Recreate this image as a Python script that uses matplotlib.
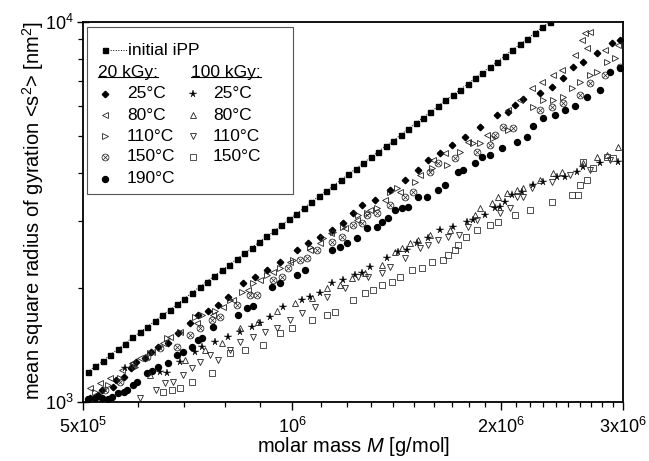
import numpy as np
import matplotlib
matplotlib.use('Agg')
import matplotlib.pyplot as plt
from matplotlib.ticker import FixedLocator, NullFormatter, FixedFormatter

plt.rcParams['font.family'] = ['Liberation Sans', 'DejaVu Sans']
plt.rcParams['mathtext.fontset'] = 'custom'
plt.rcParams['mathtext.rm'] = 'Liberation Sans'
plt.rcParams['mathtext.it'] = 'Liberation Sans:italic'
plt.rcParams['mathtext.bf'] = 'Liberation Sans:bold'
plt.rcParams['mathtext.sf'] = 'Liberation Sans'

# ---------------- data (M in 1e5 g/mol, <s^2> in nm^2) ----------------
M_init = [5.08, 5.21, 5.34, 5.47, 5.61, 5.75, 5.89, 6.04, 6.19, 6.35,
          6.50, 6.67, 6.83, 7.00, 7.18, 7.36, 7.54, 7.73, 7.93, 8.12,
          8.33, 8.54, 8.75, 8.97, 9.19, 9.42, 9.66, 9.90, 10.15, 10.40,
          10.66, 10.93, 11.20, 11.48, 11.77, 12.06, 12.37, 12.68, 12.99, 13.32,
          13.65, 13.99, 14.34, 14.70, 15.07, 15.45, 15.83, 16.23, 16.64, 17.05,
          17.48, 17.92, 18.36, 18.82, 19.29, 19.78, 20.27, 20.78, 21.30, 21.83,
          22.38, 22.94, 23.51]
R_init = [1200, 1242, 1280, 1330, 1376, 1424, 1480, 1525, 1578, 1633,
          1690, 1748, 1809, 1872, 1937, 2010, 2075, 2147, 2222, 2299,
          2379, 2462, 2548, 2636, 2728, 2810, 2921, 3023, 3128, 3237,
          3350, 3480, 3587, 3712, 3841, 3975, 4113, 4256, 4404, 4558,
          4716, 4860, 5050, 5226, 5408, 5596, 5791, 5993, 6230, 6417,
          6641, 6872, 7111, 7358, 7615, 7860, 8154, 8438, 8731, 9035,
          9350, 9675, 10012]

M_20_25 = [5.12, 5.25, 5.33, 5.52, 5.58, 5.72, 5.87, 5.97, 6.15, 6.27,
           6.42, 6.63, 6.86, 7.13, 7.32, 7.57, 7.83, 8.09, 8.50, 8.85,
           9.21, 9.61, 10.17, 10.55, 10.98, 11.43, 11.85, 12.25, 12.62, 13.17,
           13.84, 14.55, 15.19, 15.71, 16.34, 17.00, 17.75, 18.66, 19.74, 20.47,
           20.95, 21.51, 22.76, 23.68, 24.57, 25.39, 26.25, 27.49, 28.90, 29.67]
R_20_25 = [1025, 1044, 1076, 1096, 1143, 1164, 1230, 1275, 1306, 1354,
           1396, 1430, 1520, 1615, 1695, 1740, 1800, 1890, 2057, 2134,
           2226, 2336, 2513, 2621, 2719, 2837, 2960, 3145, 3300, 3402,
           3614, 3840, 4080, 4335, 4520, 4747, 4981, 5292, 5692, 5795,
           6048, 6268, 6500, 6742, 7120, 7611, 7845, 8283, 8800, 8966]

M_20_80 = [5.12, 5.29, 5.47, 5.70, 5.89, 6.04, 6.29, 6.53, 6.67, 6.90,
           7.30, 7.70, 7.96, 8.22, 8.64, 9.00, 9.40, 9.94, 10.62, 10.98,
           11.39, 11.93, 12.41, 12.96, 13.62, 14.31, 15.29, 15.97, 16.61, 17.93,
           19.10, 20.47, 21.30, 22.17, 22.91, 23.76, 24.48, 25.56, 26.16, 26.42,
           26.87, 26.60, 28.23, 29.48]
R_20_80 = [1089, 1122, 1157, 1215, 1267, 1306, 1354, 1430, 1483, 1529,
           1615, 1695, 1779, 1856, 1972, 2095, 2199, 2336, 2513, 2621,
           2785, 2870, 3015, 3200, 3402, 3569, 3958, 4335, 4520, 4832,
           5042, 5868, 6234, 6700, 6950, 7254, 7477, 8188, 8966, 9350,
           9408, 8540, 8440, 8700]

M_20_110 = [5.20, 5.43, 5.66, 5.95, 6.25, 6.61, 6.90, 7.25, 7.42, 7.75,
            8.14, 8.48, 8.79, 9.21, 9.61, 10.04, 10.62, 11.09, 11.47, 11.85,
            12.45, 12.83, 13.26, 13.84, 14.16, 15.04, 15.91, 16.72, 17.46, 18.23,
            18.66, 19.48, 20.47, 22.24, 22.99, 23.76, 24.57, 25.31, 25.99, 26.87,
            27.49, 28.42, 29.19]
R_20_110 = [1063, 1109, 1157, 1237, 1346, 1474, 1529, 1674, 1695, 1740,
            1856, 1948, 2057, 2161, 2253, 2365, 2559, 2702, 2802, 2888,
            3107, 3145, 3240, 3569, 3656, 3792, 4127, 4204, 4548, 4803,
            4803, 4950, 5197, 5973, 6234, 6234, 6346, 6700, 6950, 7254,
            7384, 7845, 8037]

M_20_150 = [5.38, 5.66, 5.91, 6.19, 6.46, 6.83, 7.13, 7.37, 7.67, 7.88,
            8.34, 8.70, 8.91, 9.40, 9.68, 9.87, 10.27, 10.52, 10.87, 11.43,
            11.81, 12.25, 12.62, 12.85, 13.26, 13.84, 14.55, 14.94, 15.81, 16.23,
            17.17, 18.47, 19.29, 19.61, 20.14, 20.81, 22.76, 23.68, 24.57, 25.99,
            26.87, 28.23, 29.67]
R_20_150 = [1076, 1129, 1252, 1314, 1388, 1396, 1501, 1566, 1644, 1674,
            1800, 1913, 1913, 2095, 2134, 2253, 2365, 2393, 2513, 2637,
            2719, 2924, 2960, 3107, 3145, 3300, 3463, 3569, 4029, 4254,
            4385, 4548, 4747, 5042, 5292, 5258, 5868, 5973, 6120, 6425,
            6907, 7254, 7611]

M_20_190 = [5.08, 5.20, 5.33, 5.43, 5.51, 5.62, 5.72, 5.79, 5.91, 5.99,
            6.19, 6.29, 6.42, 6.63, 6.83, 6.97, 7.18, 7.32, 7.42, 7.70,
            8.36, 8.61, 8.79, 9.36, 9.61, 10.17, 10.45, 11.43, 11.73, 12.01,
            12.41, 12.85, 13.26, 13.48, 13.75, 14.07, 14.40, 14.69, 15.19, 15.65,
            16.23, 16.61, 17.34, 17.63, 18.35, 18.78, 19.29, 20.07, 21.09, 21.80,
            22.24, 22.99, 23.92, 24.73, 25.56, 26.60, 27.77, 28.71, 29.67]
R_20_190 = [1018, 1025, 1025, 1018, 1031, 1056, 1063, 1076, 1109, 1129,
            1193, 1207, 1237, 1267, 1330, 1354, 1396, 1457, 1474, 1576,
            1695, 1768, 1790, 2008, 2057, 2161, 2226, 2513, 2559, 2621,
            2702, 2870, 2888, 2976, 3050, 3200, 3240, 3260, 3463, 3463,
            3614, 3725, 4029, 4080, 4254, 4412, 4467, 4660, 4832, 4981,
            5325, 5587, 5692, 5868, 6010, 6346, 6623, 7384, 7565]

M_100_25 = [5.75, 6.46, 6.61, 6.90, 7.25, 7.42, 7.75, 8.09, 8.42, 8.76,
            9.00, 9.30, 9.71, 10.34, 10.62, 10.98, 11.43, 11.85, 12.33, 12.62,
            12.96, 13.71, 14.21, 14.64, 15.14, 15.71, 16.34, 17.06, 17.87, 18.23,
            18.97, 19.61, 19.94, 20.27, 20.75, 21.44, 22.24, 22.99, 24.08, 24.73,
            25.73, 26.25, 27.77, 29.48]
R_100_25 = [1230, 1200, 1193, 1275, 1354, 1396, 1439, 1483, 1529, 1576,
            1615, 1674, 1779, 1856, 1890, 1937, 2057, 2095, 2161, 2186,
            2267, 2393, 2482, 2513, 2621, 2702, 2837, 2888, 2976, 3015,
            3107, 3240, 3260, 3360, 3506, 3569, 3725, 3792, 3909, 3909,
            4029, 4153, 4254, 4281]

M_100_80 = [6.25, 7.02, 7.50, 7.93, 8.42, 8.94, 9.52, 10.10, 10.69, 11.24,
            11.73, 12.21, 12.74, 13.48, 14.07, 14.40, 14.79, 15.19, 15.81, 16.89,
            18.35, 18.66, 19.42, 19.81, 20.41, 21.09, 21.51, 22.76, 23.76, 24.48,
            26.25, 27.49, 28.42, 29.48]
R_100_80 = [1178, 1290, 1371, 1430, 1566, 1624, 1740, 1823, 1879, 1996,
            2033, 2121, 2186, 2294, 2482, 2543, 2621, 2669, 2753, 2837,
            3107, 3240, 3340, 3463, 3547, 3614, 3656, 3840, 4004, 4029,
            4254, 4412, 4467, 4688]

M_100_110 = [6.04, 6.36, 6.57, 6.74, 6.97, 7.18, 7.37, 7.62, 7.83, 8.14,
             8.42, 8.79, 9.15, 9.52, 9.94, 10.34, 10.80, 11.24, 11.93, 12.45,
             12.87, 13.48, 13.84, 14.55, 15.29, 15.71, 16.23, 16.78, 17.40, 17.93,
             18.47, 19.94, 20.61, 21.09, 21.51, 22.17, 23.68, 25.14, 26.87, 28.71]
R_100_110 = [1025, 1076, 1122, 1129, 1178, 1230, 1275, 1330, 1290, 1371,
             1439, 1483, 1529, 1566, 1644, 1716, 1779, 1890, 1996, 2134,
             2134, 2186, 2267, 2393, 2543, 2590, 2669, 2719, 2753, 2888,
             3015, 3145, 3240, 3463, 3463, 3656, 3792, 3958, 4080, 4335]

M_100_150 = [6.53, 6.72, 6.90, 7.18, 7.67, 8.14, 8.56, 9.09, 9.61, 10.00,
             10.69, 11.24, 11.54, 12.25, 12.74, 13.08, 13.48, 13.93, 14.31, 14.89,
             15.40, 15.91, 16.50, 16.78, 17.17, 17.34, 17.81, 18.47, 19.29, 19.81,
             20.95, 22.02, 23.68, 25.31, 25.82, 25.99, 26.60, 27.13, 26.25, 28.42,
             28.99]
R_100_150 = [1063, 1076, 1089, 1129, 1193, 1346, 1371, 1413, 1520, 1566,
             1644, 1695, 1726, 1856, 1937, 1972, 2033, 2070, 2134, 2226,
             2253, 2336, 2365, 2437, 2513, 2590, 2719, 2837, 2924, 2976,
             3107, 3200, 3360, 3506, 3506, 3725, 3840, 4127, 4281, 4412,
             4385]

x_ticks = [5e5, 1e6, 2e6, 3e6]
x_ticklabels = ['5x10$^{5}$', '10$^{6}$', '2x10$^{6}$', '3x10$^{6}$']
y_ticks = [1e3, 1e4]
y_ticklabels = ['10$^{3}$', '10$^{4}$']

temps = ['25°C', '80°C', '110°C', '150°C', '190°C']

# ---------------- styles ----------------
EC = '#222222'
st_init = dict(marker='s', ms=3.6, color='k', ls=':', lw=0.7)
st = {
    '20_25': dict(marker='D', ms=3.3, mfc='k', mec='k', ls='none'),
    '20_80': dict(marker='<', ms=4.6, mfc='none', mec=EC, mew=0.6, ls='none'),
    '20_110': dict(marker='>', ms=4.6, mfc='none', mec=EC, mew=0.6, ls='none'),
    '20_150': dict(marker=r'$\otimes$', ms=5.2, mfc=EC, mec=EC, mew=0.2, ls='none'),
    '20_190': dict(marker='o', ms=4.3, mfc='k', mec='k', ls='none'),
    '100_25': dict(marker='*', ms=5.6, mfc='k', mec='k', mew=0.3, ls='none'),
    '100_80': dict(marker='^', ms=4.6, mfc='none', mec=EC, mew=0.6, ls='none'),
    '100_110': dict(marker='v', ms=4.6, mfc='none', mec=EC, mew=0.6, ls='none'),
    '100_150': dict(marker='s', ms=3.8, mfc='none', mec='#333333', mew=0.6, ls='none'),
}
series = {
    '20_25': (M_20_25, R_20_25), '20_80': (M_20_80, R_20_80),
    '20_110': (M_20_110, R_20_110), '20_150': (M_20_150, R_20_150),
    '20_190': (M_20_190, R_20_190), '100_25': (M_100_25, R_100_25),
    '100_80': (M_100_80, R_100_80), '100_110': (M_100_110, R_100_110),
    '100_150': (M_100_150, R_100_150),
}

fig = plt.figure(figsize=(6.49, 4.61), dpi=100)
ax = fig.add_axes([83/649, 59/461, 540/649, 380/461])
ax.set_xscale('log')
ax.set_yscale('log')

ax.plot(np.array(M_init)*1e5, R_init, **st_init, zorder=3)
for key, (m, r) in series.items():
    ax.plot(np.array(m)*1e5, r, **st[key], zorder=3)

ax.set_xlim(5e5, 3e6)
ax.set_ylim(1e3, 1e4)

ax.xaxis.set_major_locator(FixedLocator(x_ticks))
ax.xaxis.set_major_formatter(FixedFormatter(x_ticklabels))
xminor = [k*1e5 for k in range(6, 10)] + [k*1e5 for k in range(11, 30) if k != 20]
ax.xaxis.set_minor_locator(FixedLocator(xminor))
ax.xaxis.set_minor_formatter(NullFormatter())
ax.yaxis.set_major_locator(FixedLocator(y_ticks))
ax.yaxis.set_major_formatter(FixedFormatter(y_ticklabels))
ax.yaxis.set_minor_locator(FixedLocator([k*1e3 for k in range(2, 10)]))
ax.yaxis.set_minor_formatter(NullFormatter())

ax.tick_params(axis='x', which='major', direction='out', length=6, width=1.0,
               labelsize=13, pad=5)
ax.tick_params(axis='x', which='minor', direction='out', length=3.5, width=0.9)
ax.tick_params(axis='y', which='major', direction='inout', length=9, width=1.0,
               labelsize=13, pad=2)
ax.tick_params(axis='y', which='minor', direction='out', length=3.5, width=0.9)
for s in ax.spines.values():
    s.set_linewidth(1.3)

ax.set_xlabel('molar mass $M$ [g/mol]', fontsize=14.5)
ax.set_ylabel('mean square radius of gyration <s$^{2}$> [nm$^{2}$]', fontsize=14.5)
ax.xaxis.set_label_coords(0.5, -0.088)
ax.yaxis.set_label_coords(-0.068, 0.505)

# ---------------- legend (manual key box) ----------------
T = ax.transAxes
box = plt.Rectangle((0.0074, 0.547), 0.3815, 0.44, transform=T, facecolor='white',
                    edgecolor='#555555', lw=0.8, zorder=4)
ax.add_patch(box)
fs = 12.5
ry = [0.926, 0.868, 0.811, 0.755, 0.700, 0.645, 0.587]
ax.plot([0.0407, 0.0815], [ry[0], ry[0]], transform=T, color='k', ls=':', lw=0.7,
        zorder=5, clip_on=False)
ax.plot([0.0407], [ry[0]], transform=T, marker='s', ms=3.6, color='k', ls='none',
        zorder=5, clip_on=False)
ax.text(0.084, ry[0], 'initial iPP', transform=T, fontsize=fs, va='center', ha='left', zorder=6)
h1 = ax.text(0.0278, ry[1], '20 kGy:', transform=T, fontsize=fs, va='center', ha='left', zorder=6)
h2 = ax.text(0.200, ry[1], '100 kGy:', transform=T, fontsize=fs, va='center', ha='left', zorder=6)
keys20 = ['20_25', '20_80', '20_110', '20_150', '20_190']
keys100 = ['100_25', '100_80', '100_110', '100_150']
for i, k in enumerate(keys20):
    ax.plot([0.0407], [ry[i+2]], transform=T, zorder=5, clip_on=False, **st[k])
    ax.text(0.0815, ry[i+2], temps[i], transform=T, fontsize=fs, va='center', ha='left', zorder=6)
for i, k in enumerate(keys100):
    ax.plot([0.2037], [ry[i+2]], transform=T, zorder=5, clip_on=False, **st[k])
    ax.text(0.2407, ry[i+2], temps[i], transform=T, fontsize=fs, va='center', ha='left', zorder=6)

fig.canvas.draw()
r = fig.canvas.get_renderer()
inv = T.inverted()
for h in (h1, h2):
    bb = h.get_window_extent(r)
    (x0, y0), (x1, y1) = inv.transform([[bb.x0, bb.y0], [bb.x1, bb.y1]])
    yu = y0 + 0.006
    ax.plot([x0, x1], [yu, yu], transform=T, color='k', lw=0.8, zorder=6, clip_on=False)

fig.savefig('out.png', dpi=100)
